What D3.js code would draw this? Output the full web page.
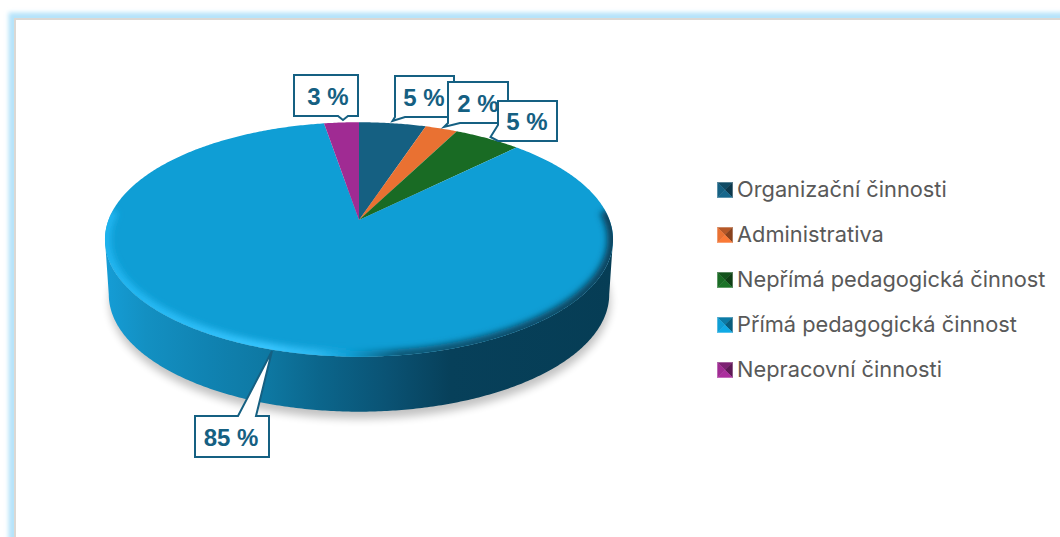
<!DOCTYPE html>
<html lang="cs"><head><meta charset="utf-8">
<script src="https://cdn.jsdelivr.net/npm/d3@7"></script>
<style>html,body{margin:0;padding:0;background:#fff;overflow:hidden}svg{display:block}</style>
</head><body><svg id="c" width="1060" height="537"></svg>
<script>
const categories=["Organizační činnosti","Administrativa","Nepřímá pedagogická činnost","Přímá pedagogická činnost","Nepracovní činnosti"];
const values=[5,2.4,5,85,2.6];
const sliceColors=["#156082","#E97132","#196B24","#0F9ED5","#A02B93"];
const wallStops=[[0,"#159dd6"],[.08,"#1390c2"],[.2,"#1083b2"],[.32,"#0e78a2"],[.42,"#0b668c"],[.56,"#0a5273"],[.68,"#07405a"],[1,"#063d55"]];
const rimStops=[[0,"#1fb4ef"],[.32,"#38c6ff"],[.42,"#2cb8f0"],[.48,"#0f9ed5"],[.58,"#0a5877"],[1,"#07425c"]];
// callout layout, in category order
const calloutBoxes=[
 {x:395,y:76,w:59,h:41,dx:-0.5,edge:"bottom",tip:[392.5,121],base:[395,405]},
 {x:448,y:82,w:60,h:41,dx:0,edge:"bottom",tip:[444,127],base:[448,460]},
 {x:498,y:101,w:59,h:40,dx:-0.5,edge:"left",tip:[490.5,137],base:[125,141]},
 {x:195,y:416,w:74,h:41,dx:-1,edge:"top",tip:[272,351],base:[238,256]},
 {x:294,y:75,w:64,h:41,dx:2,edge:"bottom",tip:[343,120],base:[338,348]}];
const labelOrder=[4,0,1,2,3];

const svg=d3.select("#c"),defs=svg.append("defs");
const color=d3.scaleOrdinal().domain(categories).range(sliceColors);
const blur=(id,s)=>defs.append("filter").attr("id",id).attr("x","-20%").attr("y","-20%").attr("width","140%").attr("height","140%").append("feGaussianBlur").attr("stdDeviation",s);
blur("b2",2);blur("b3",3);blur("b4",4.5);
const grad=(id,stops,x1,x2)=>{const g=defs.append("linearGradient").attr("id",id).attr("gradientUnits","userSpaceOnUse").attr("x1",x1).attr("x2",x2).attr("y1",0).attr("y2",0);
 stops.forEach(s=>g.append("stop").attr("offset",s[0]).attr("stop-color",s[1]));};

// Frame
svg.append("rect").attr("x",14).attr("y",18).attr("width",1100).attr("height",600).attr("fill","none").attr("stroke","#b5e3fa").attr("stroke-width",11).attr("filter","url(#b2)");
svg.append("rect").attr("x",15).attr("y",19).attr("width",1100).attr("height",600).attr("fill","#fff").attr("stroke","#dbd8d4").attr("stroke-width",2);

// Perspective disc
const cx=359,apexY=220,A=250.5,B=114,k=0.166,depth=55,shrink=.985;
const proj=a=>{const u=Math.sin(a),v=-Math.cos(a),w=1-k*v;return [cx+A*u/w,apexY+B*v/w];};
const low=a=>{const p=proj(a);return [cx+(p[0]-cx)*shrink,p[1]+depth];};
const samples=(a0,a1,f)=>{const n=Math.max(2,Math.ceil(Math.abs(a1-a0)/.01));return d3.range(n+1).map(i=>f(a0+(a1-a0)*i/n));};
const line=d3.line();
const TAU=2*Math.PI,ext=Math.acos(-k);

// Shadow
svg.append("path").attr("d",line(samples(0,TAU,a=>{const p=low(a);return [p[0]+1,p[1]+7];}))+"Z").attr("fill","#000").attr("opacity",.24).attr("filter","url(#b4)");

// Wall
grad("wall",wallStops,105,613);
const wall=samples(ext,TAU-ext,proj).concat(samples(TAU-ext,ext,low));
svg.append("path").attr("d",line(wall)+"Z").attr("fill","url(#wall)");

// Top slices
const arcs=d3.pie().sort(null).value(d=>d.v)(categories.map((c,i)=>({c,v:values[i]})));
svg.append("g").selectAll("path").data(arcs).join("path")
 .attr("d",d=>line([[cx,apexY]].concat(samples(d.startAngle,d.endAngle,proj)))+"Z")
 .attr("fill",d=>color(d.data.c));

// Rim bevel
defs.append("clipPath").attr("id","top").append("path").attr("d",line(samples(0,TAU,proj))+"Z");
grad("rim",rimStops,105,613);
svg.append("g").attr("clip-path","url(#top)").append("path")
 .attr("d",line(samples(ext-.25,TAU-ext+.25,proj)))
 .attr("fill","none").attr("stroke","url(#rim)").attr("stroke-width",12).attr("filter","url(#b3)");

// Legend
const rowY=d3.scalePoint().domain(categories).range([190,370]);
const lg=svg.append("g").selectAll("g").data(categories).join("g").attr("transform",d=>`translate(725,${rowY(d)})`);
const s=7.5;
const tris=[[[-s,-s],[s,-s],[0,0]],[[s,-s],[s,s],[0,0]],[[s,s],[-s,s],[0,0]],[[-s,s],[-s,-s],[0,0]]];
const shade=[c=>d3.color(c).darker(.7),c=>d3.color(c).darker(1.5),c=>d3.color(c).brighter(.2),c=>d3.color(c)];
tris.forEach((t,i)=>lg.append("path").attr("d",line(t)+"Z").attr("fill",d=>shade[i](color(d))).attr("stroke",d=>shade[i](color(d))).attr("stroke-width",.4));
lg.append("text").attr("x",12).attr("y",7).attr("font-family","Inter").attr("font-size",21.8).attr("fill","#595959").text(d=>d);

// Callouts
const outline=b=>{
  const c=[[b.x,b.y],[b.x+b.w,b.y],[b.x+b.w,b.y+b.h],[b.x,b.y+b.h]];
  const [m,n]=b.base,t=b.tip;
  if(b.edge==="top") return [c[0],[m,b.y],t,[n,b.y],c[1],c[2],c[3]];
  if(b.edge==="left") return [c[0],c[1],c[2],c[3],[b.x,n],t,[b.x,m]];
  return [c[0],c[1],c[2],[n,b.y+b.h],t,[m,b.y+b.h],c[3]];
};
const cg=svg.append("g").selectAll("g").data(labelOrder).join("g");
cg.append("path").attr("d",i=>line(outline(calloutBoxes[i]))+"Z")
 .attr("fill","#fff").attr("stroke","#156082").attr("stroke-width",2).attr("stroke-linejoin","miter");
cg.append("text").attr("x",i=>calloutBoxes[i].x+calloutBoxes[i].w/2+calloutBoxes[i].dx).attr("y",i=>calloutBoxes[i].y+calloutBoxes[i].h/2+9)
 .attr("text-anchor","middle").attr("font-family","'Liberation Sans'").attr("font-weight","bold").attr("font-size",24).attr("fill","#156082")
 .text(i=>Math.round(values[i])+" %");
</script></body></html>
